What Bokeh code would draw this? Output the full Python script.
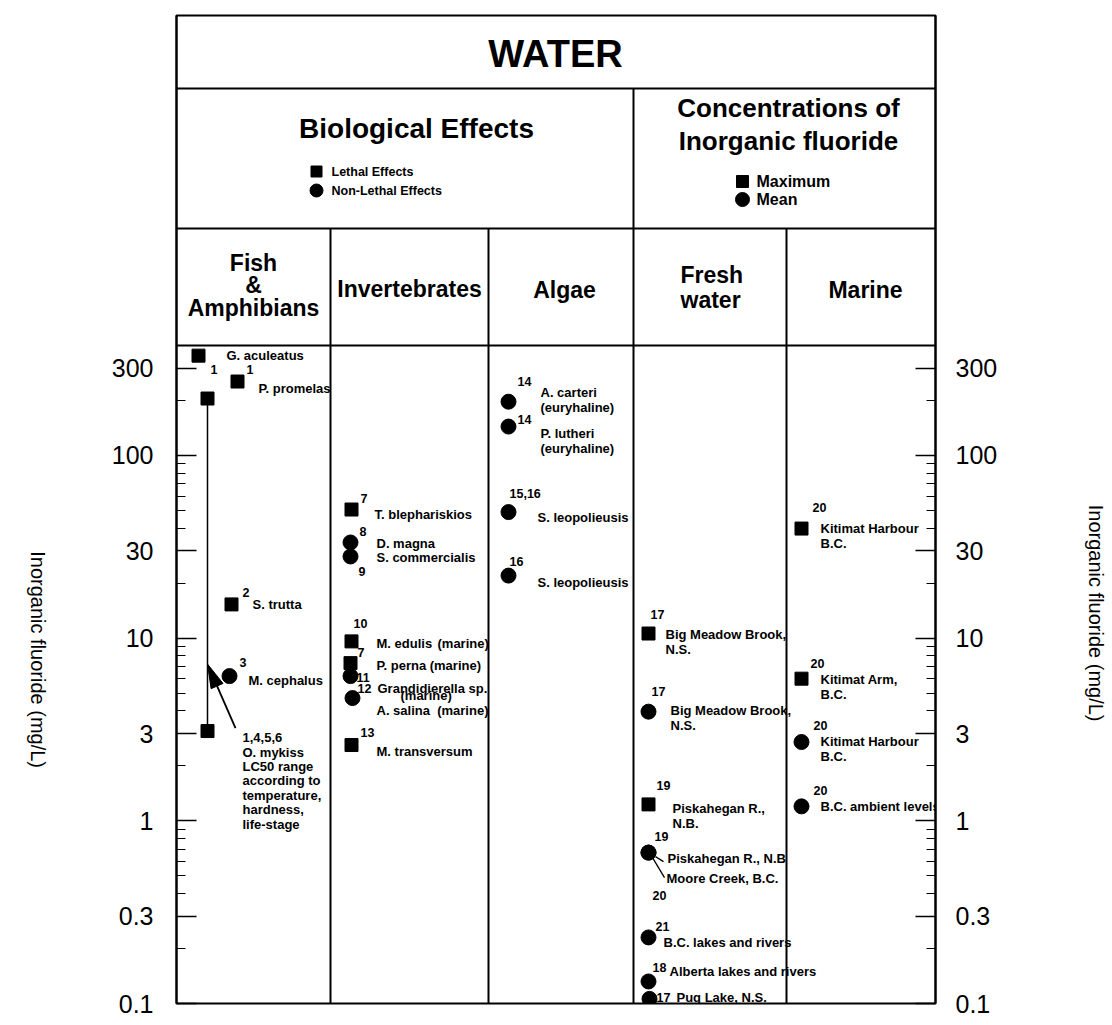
import math
from bokeh.plotting import figure
from bokeh.layouts import row
from bokeh.models import (Range1d, LinearScale, LogAxis, FixedTicker, CustomJSTickFormatter,
                          ColumnDataSource)
from bokeh.core.properties import value
from bokeh.embed import file_html
from bokeh.resources import INLINE

# ---------------- data ----------------
chart_title = "WATER"
section_titles = ["Biological Effects", "Concentrations of\nInorganic fluoride"]
legend_bio = ["Lethal Effects", "Non-Lethal Effects"]
legend_conc = ["Maximum", "Mean"]
column_names = ["Fish\n&\nAmphibians", "Invertebrates", "Algae", "Fresh\nwater", "Marine"]
axis_title = "Inorganic fluoride (mg/L)"
y_tick_values = [0.1, 0.3, 1, 3, 10, 30, 100, 300]
y_tick_labels = ["0.1", "0.3", "1", "3", "10", "30", "100", "300"]
y_minor_values = [0.2, 0.4, 0.5, 0.6, 0.7, 0.8, 0.9, 2, 4, 5, 6, 7, 8, 9,
                  20, 40, 50, 60, 70, 80, 90, 200]

pt_column = [0, 0, 0, 0,
             1, 1, 1, 1, 1, 1, 1, 1,
             2, 2, 2, 2,
             3, 3, 3, 3, 3, 3, 3, 3,
             4, 4, 4, 4]
pt_value = [352, 254, 15.3, 6.2,
            50.6, 33.4, 28.0, 9.6, 7.3, 6.2, 4.7, 2.6,
            197, 144, 49, 22,
            10.6, 3.96, 1.23, 0.67, 0.67, 0.23, 0.132, 0.106,
            39.8, 6.0, 2.7, 1.2]
pt_kind = ["lethal", "lethal", "lethal", "nonlethal",
           "lethal", "nonlethal", "nonlethal", "lethal", "lethal", "nonlethal", "nonlethal", "lethal",
           "nonlethal", "nonlethal", "nonlethal", "nonlethal",
           "max", "mean", "max", "mean", "mean", "mean", "mean", "mean",
           "max", "max", "mean", "mean"]
pt_ref = ["1", "1", "2", "3",
          "7", "8", "9", "10", "7", "11", "12", "13",
          "14", "14", "15,16", "16",
          "17", "17", "19", "19", "20", "21", "18", "17",
          "20", "20", "20", "20"]
pt_label = ["G. aculeatus", "P. promelas", "S. trutta", "M. cephalus",
            "T. blephariskios", "D. magna", "S. commercialis", "M. edulis",
            "P. perna (marine)", "Grandidierella sp.", "A. salina\u00a0\u00a0(marine)", "M. transversum",
            "A. carteri\n(euryhaline)", "P. lutheri\n(euryhaline)", "S. leopolieusis", "S. leopolieusis",
            "Big Meadow Brook,\nN.S.", "Big Meadow Brook,\nN.S.", "Piskahegan R.,\nN.B.",
            "Piskahegan R., N.B", "Moore Creek, B.C.", "B.C. lakes and rivers",
            "Alberta lakes and rivers", "Pug Lake, N.S.",
            "Kitimat Harbour\nB.C.", "Kitimat Arm,\nB.C.", "Kitimat Harbour\nB.C.", "B.C. ambient levels"]
extra_label_point = [7, 9]
extra_label_text = ["(marine)", "(marine)"]

range_column = 0
range_low = 3.1
range_high = 205
range_ref = "1,4,5,6"
range_label = "O. mykiss\nLC50 range\naccording to\ntemperature,\nhardness,\nlife-stage"

# ---------------- layout ----------------
FIG_H = 1020
FRAME_TOP = 15
FRAME_W, FRAME_H = 759, 988
PLOT_H = 658
Y_MIN, Y_AXIS_TOP = 0.1, 400
PPD = PLOT_H / math.log10(Y_AXIS_TOP / Y_MIN)
Y_TOP = Y_MIN * 10 ** (FRAME_H / PPD)
HDR_LINES = [73, 213, FRAME_H - PLOT_H]
col_left = [0, 154, 312, 457, 610]
LEFT_W, MAIN_BORDER_L, MAIN_BORDER_R, RIGHT_W = 60, 116, 85, 88
LH_K = 1.15   # rendered line spacing / (font size * line height)

def shift(v, dpx):
    """move a value by dpx screen pixels (positive = down)"""
    return v * 10 ** (-dpx / PPD)

def lh_for(spacing, fs):
    return spacing / (LH_K * fs)

pt_dx = [22, 61, 55, 53, 21, 20, 20, 21, 20, 20, 22, 21,
         20, 20, 20, 20, 15, 15, 15, 15, 15, 15, 15, 16, 15, 15, 15, 15]
lab_off = [(28, 0), (21, 7), (21, 0), (19, 4), (23, 5), (26, 1), (26, 1), (25, 2), (26, 2),
           (27, 12), (24, 12), (25, 6), (32, -9), (32, 7), (29, 5), (29, 7), (17, 1), (22, -1),
           (24, 4), (19, 6), (18, 26), (15, 5), (21, -10), (27, -1), (19, 0), (19, 1), (19, -1), (19, 0)]
ref_off = [(12, 14), (9, -12), (11, -12), (10, -14), (9, -11), (9, -11), (8, 15), (2, -18),
           (7, -11), (6, 1), (5, -10), (9, -13), (9, -20), (9, -7), (1, -19), (1, -14), (2, -19),
           (3, -20), (8, -19), (6, -16), (4, 43), (7, -11), (4, -14), (7, -1), (11, -21), (9, -15),
           (12, -17), (12, -16)]
extra_off = [(86, 2), (50, 19)]
range_dx = 31

FONT = value("Liberation Sans")
LAB_SIZE = 13
LAB_FS = "13px"
LAB_SP = 15.0
RANGE_SP = 14.3

p = figure(width=MAIN_BORDER_L + FRAME_W + MAIN_BORDER_R, height=FIG_H,
           x_range=Range1d(0, FRAME_W), y_range=Range1d(Y_MIN, Y_TOP),
           y_axis_type="log", x_axis_location=None, y_axis_location=None,
           toolbar_location=None, output_backend="svg",
           min_border_left=MAIN_BORDER_L, min_border_right=MAIN_BORDER_R,
           min_border_top=FRAME_TOP, min_border_bottom=FIG_H - FRAME_TOP - FRAME_H)
p.extra_y_ranges = {"hdr": Range1d(start=FRAME_H, end=0)}
p.extra_y_scales = {"hdr": LinearScale()}
for g in p.grid:
    g.visible = False
p.outline_line_color = "black"
p.outline_line_width = 2
p.background_fill_color = "white"
p.border_fill_color = "white"

# header rules
hx0 = [0, 0, 0, col_left[3], col_left[1], col_left[2], col_left[4]]
hx1 = [FRAME_W, FRAME_W, FRAME_W, col_left[3], col_left[1], col_left[2], col_left[4]]
hy0 = HDR_LINES + [HDR_LINES[0], HDR_LINES[1], HDR_LINES[1], HDR_LINES[1]]
hy1 = HDR_LINES + [FRAME_H] * 4
p.segment(hx0, hy0, hx1, hy1, y_range_name="hdr", line_color="black", line_width=2)

# header texts
p.text([379], [38], text=[chart_title], y_range_name="hdr", text_font=FONT, text_font_style="bold",
       text_font_size="38px", text_align="center", text_baseline="middle")
p.text([240], [113], text=[section_titles[0]], y_range_name="hdr", text_font=FONT,
       text_font_style="bold", text_font_size="28px", text_align="center", text_baseline="middle")
p.text([612], [109], text=[section_titles[1]], y_range_name="hdr", text_font=FONT,
       text_font_style="bold", text_font_size="26px", text_align="center", text_baseline="middle",
       text_line_height=lh_for(32, 26))
# legends
p.scatter([140, 140], [156, 175], marker=["square", "circle"], size=[11, 13], color="black",
          y_range_name="hdr")
p.text([155, 155], [156, 175], text=legend_bio, y_range_name="hdr", text_font=FONT,
       text_font_style="bold", text_font_size="12.5px", text_baseline="middle")
p.scatter([566, 566], [166, 184], marker=["square", "circle"], size=[12, 14], color="black",
          y_range_name="hdr")
p.text([580, 580], [166, 184], text=legend_conc, y_range_name="hdr", text_font=FONT,
       text_font_style="bold", text_font_size="16px", text_baseline="middle")
# column headers
ch_x = [77, 233, 388, 504, 689]
ch_y = [270, 273, 274, 272, 274]
ch_align = ["center", "center", "center", "left", "center"]
ch_sp = [22.5, 25, 25, 25, 25]
for name, x, y, a, sp in zip(column_names, ch_x, ch_y, ch_align, ch_sp):
    p.text([x], [y], text=[name], y_range_name="hdr", text_font=FONT, text_font_style="bold",
           text_font_size="23px", text_align=a, text_baseline="middle",
           text_line_height=lh_for(sp, 23))

# O. mykiss range
rx = col_left[range_column] + range_dx
p.segment([rx], [range_low], [rx], [range_high], line_color="black", line_width=1.5)
p.scatter([rx, rx], [range_low, range_high], marker="square", size=13, color="black")
rtext = range_ref + "\n" + range_label
nlines = rtext.count("\n") + 1
p.text([rx + 35], [shift(range_low, 7 + (nlines - 1) * RANGE_SP / 2)], text=[rtext],
       text_font=FONT, text_font_style="bold", text_font_size=LAB_FS, text_baseline="middle",
       text_line_height=lh_for(RANGE_SP, LAB_SIZE))
# arrow from the label up to the range line (head as a slender triangle)
tip_dy = -67
head = [(0, 0), (15.5, 19.4), (3.6, 24.6)]
p.patch([rx + hx for hx, hy in head], [shift(range_low, tip_dy + hy) for hx, hy in head],
        color="black")
p.segment([rx + 28], [shift(range_low, -3)], [rx + 9.6], [shift(range_low, tip_dy + 22)],
          line_color="black", line_width=1.8)

# points
px = [col_left[c] + d for c, d in zip(pt_column, pt_dx)]
pm = ["square" if k in ("lethal", "max") else "circle" for k in pt_kind]
ps = [13 if m == "square" else 15 for m in pm]
p.scatter(x="x", y="y", marker="m", size="s", color="black",
          source=ColumnDataSource(dict(x=px, y=pt_value, m=pm, s=ps)))

lx, ly = [], []
for i, (dx, dy) in enumerate(lab_off):
    n = pt_label[i].count("\n") + 1
    lx.append(px[i] + dx)
    ly.append(shift(pt_value[i], dy + (n - 1) * LAB_SP / 2))
p.text(lx, ly, text=pt_label, text_font=FONT, text_font_style="bold", text_font_size=LAB_FS,
       text_baseline="middle", text_line_height=lh_for(LAB_SP, LAB_SIZE))

rxs = [px[i] + dx for i, (dx, dy) in enumerate(ref_off)]
rys = [shift(pt_value[i], dy) for i, (dx, dy) in enumerate(ref_off)]
p.text(rxs, rys, text=pt_ref, text_font=FONT, text_font_style="bold", text_font_size="12.5px",
       text_baseline="middle")

exs = [px[j] + o[0] for j, o in zip(extra_label_point, extra_off)]
eys = [shift(pt_value[j], o[1]) for j, o in zip(extra_label_point, extra_off)]
p.text(exs, eys, text=extra_label_text, text_font=FONT, text_font_style="bold",
       text_font_size=LAB_FS, text_baseline="middle")

# leader lines from the shared circle to its two labels
lead = [(7, 4, 15, 9), (4, 5, 16, 25)]
j = 19
p.segment([px[j] + a for a, b, c, d in lead], [shift(pt_value[j], b) for a, b, c, d in lead],
          [px[j] + c for a, b, c, d in lead], [shift(pt_value[j], d) for a, b, c, d in lead],
          line_color="black", line_width=1.3)

# axes
def make_axis(standoff):
    fmt = CustomJSTickFormatter(args=dict(tvals=y_tick_values, tlabels=y_tick_labels), code="""
        for (let i = 0; i < tvals.length; i++) {
            if (Math.abs(tvals[i] - tick) <= 1e-6 * tvals[i]) return tlabels[i];
        }
        return "";""")
    ax = LogAxis(ticker=FixedTicker(ticks=y_tick_values, minor_ticks=y_minor_values), formatter=fmt)
    ax.major_tick_in = 20
    ax.major_tick_out = 0
    ax.minor_tick_in = 9
    ax.minor_tick_out = 0
    ax.axis_line_width = 2
    ax.major_tick_line_width = 1.5
    ax.minor_tick_line_width = 1.2
    ax.major_label_standoff = standoff
    ax.major_label_text_font = "Liberation Sans"
    ax.major_label_text_font_size = "25px"
    ax.major_label_text_color = "black"
    return ax

p.add_layout(make_axis(23), "left")
p.add_layout(make_axis(20), "right")

# side panels carrying the axis titles (read top to bottom)
def title_panel(width, cx, cy):
    t = figure(width=width, height=FIG_H, x_range=Range1d(0, width), y_range=Range1d(FIG_H, 0),
               x_axis_location=None, y_axis_location=None, toolbar_location=None,
               output_backend="svg", min_border=0, outline_line_color=None)
    for g in t.grid:
        g.visible = False
    t.text([cx], [cy], text=[axis_title], angle=-math.pi / 2, text_font=FONT,
           text_font_size="20px", text_align="center", text_baseline="middle", text_color="black")
    return t

left_panel = title_panel(LEFT_W, 37, 665)
right_panel = title_panel(RIGHT_W, 1095 - (LEFT_W + MAIN_BORDER_L + FRAME_W + MAIN_BORDER_R), 617)

layout = row(left_panel, p, right_panel, spacing=0)
open("out.html", "w").write(file_html(layout, INLINE))
